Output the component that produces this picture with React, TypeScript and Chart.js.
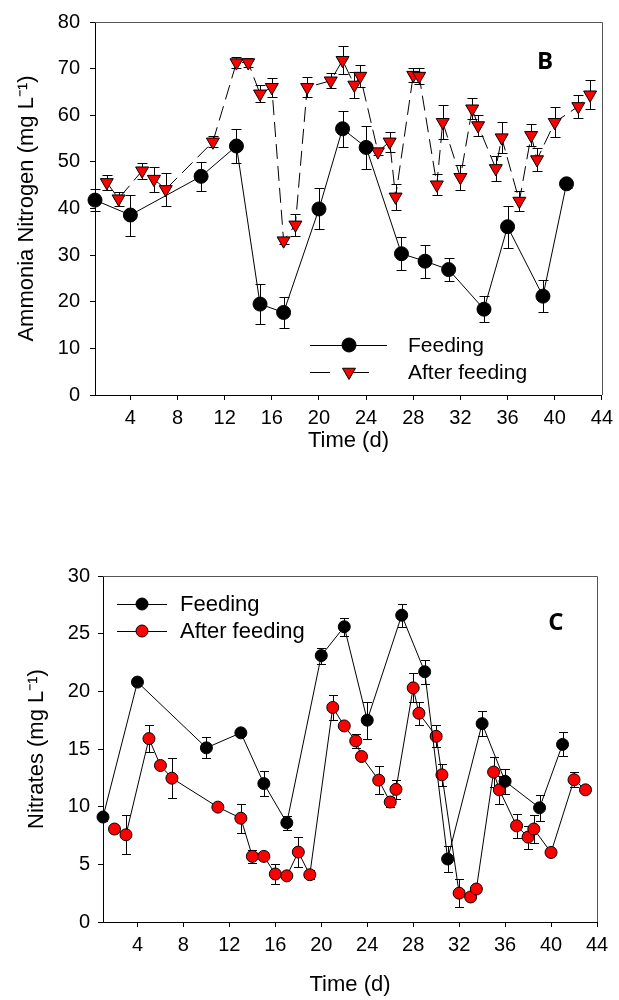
import React, { useEffect, useRef } from "react";
import { Chart, registerables } from "chart.js";

Chart.register(...registerables);

// ---------- data ----------
const feedDays = [1, 4, 10, 13, 15, 17, 20, 22, 24, 27, 29, 31, 34, 36, 39, 41];
const afterDays = [2, 3, 5, 6, 7, 11, 13, 14, 15, 16, 17, 18, 19, 21, 22, 23, 23.5, 25, 26, 26.5, 28, 28.5, 30, 30.5, 32, 33, 33.5, 35, 35.5, 37, 38, 38.5, 40, 42, 43];

const ammoniaFeeding = [41.8, 38.6, 46.9, 53.4, 19.5, 17.7, 39.9, 57.1, 53.1, 30.3, 28.7, 26.9, 18.4, 36.1, 21.2, 45.3];
const ammoniaFeedingErr = [2.3, 4.4, 3.1, 3.7, 4.2, 3.3, 4.4, 3.9, 4.6, 3.5, 3.5, 2.4, 2.8, 4.5, 3.5, 0.8];
const ammoniaAfter = [45.6, 42.1, 48.1, 46.3, 44.1, 54.3, 71.3, 71.3, 64.6, 66.0, 33.1, 36.5, 66.0, 67.4, 71.8, 66.5, 68.4, 52.2, 54.3, 42.5, 68.6, 68.4, 45.1, 58.5, 46.7, 61.4, 57.8, 48.6, 55.2, 41.6, 55.7, 50.5, 58.5, 61.9, 64.4];
const ammoniaAfterErr = [1.6, 1.5, 1.7, 2.7, 3.5, 1.2, 1.2, 1.0, 1.8, 2.0, 0.8, 2.4, 2.1, 1.6, 3.0, 2.7, 2.3, 0.8, 2.2, 2.8, 1.5, 1.7, 2.3, 3.6, 2.65, 2.2, 2.3, 2.65, 3.4, 2.1, 2.4, 2.4, 3.2, 2.4, 3.1];

const nitrateFeeding = [9.1, 20.8, 15.1, 16.4, 12.0, 8.6, 23.1, 25.6, 17.5, 26.6, 21.7, 5.46, 17.2, 12.2, 9.9, 15.4];
const nitrateFeedingErr = [0.3, 0.2, 0.9, 0.2, 1.08, 0.58, 0.7, 0.8, 1.6, 1.0, 1.04, 1.1, 1.08, 1.08, 1.1, 1.04];
const nitrateAfter = [8.06, 7.56, 15.9, 13.57, 12.47, 9.96, 9.0, 5.69, 5.69, 4.16, 4.0, 6.06, 4.1, 18.6, 17.0, 15.7, 14.35, 12.3, 10.4, 11.5, 20.3, 18.1, 16.1, 12.76, 2.5, 2.17, 2.86, 13.0, 11.46, 8.34, 7.36, 8.06, 6.03, 12.33, 11.46];
const nitrateAfterErr = [0.2, 1.7, 1.15, 0.2, 1.75, 0.2, 1.25, 0.58, 0.2, 0.9, 0.2, 1.28, 0.4, 1.12, 0.2, 0.6, 0.3, 1.2, 0.4, 0.8, 1.25, 1.0, 0.94, 0.94, 1.22, 0.2, 0.2, 1.27, 1.2, 1.05, 1.0, 1.2, 0.2, 0.66, 0.2];

const xTicks = [4, 8, 12, 16, 20, 24, 28, 32, 36, 40, 44];
const ammoniaYTicks = [0, 10, 20, 30, 40, 50, 60, 70, 80];
const nitrateYTicks = [0, 5, 10, 15, 20, 25, 30];

const seriesLabels = ["Feeding", "After feeding"];

// ---------- styling ----------
const FONT = "'Liberation Sans', Arial, Helvetica, sans-serif";
const LABEL_FONT = "'Open Sans', 'Liberation Sans', sans-serif";

const toPoints = (xs: number[], ys: number[]) => xs.map((x, i) => ({ x, y: ys[i] }));

// ---------- plugins ----------
const errorBarPlugin = {
  id: "errorBars",
  beforeDatasetsDraw(chart: any, _args: any, opts: any) {
    const ctx = chart.ctx;
    const yScale = chart.scales.y;
    const cap = opts?.cap ?? 5;
    chart.data.datasets.forEach((ds: any, i: number) => {
      const errs: number[] | undefined = ds.errors;
      if (!errs) return;
      const meta = chart.getDatasetMeta(i);
      ctx.save();
      ctx.strokeStyle = "#000";
      ctx.lineWidth = 1;
      ctx.setLineDash([]);
      meta.data.forEach((pt: any, j: number) => {
        const v = ds.data[j].y;
        const e = errs[j];
        const x = Math.round(pt.x) + 0.5;
        const yt = Math.round(yScale.getPixelForValue(v + e)) + 0.5;
        const yb = Math.round(yScale.getPixelForValue(v - e)) + 0.5;
        ctx.beginPath();
        ctx.moveTo(x, yt);
        ctx.lineTo(x, yb);
        ctx.moveTo(x - cap, yt);
        ctx.lineTo(x + cap, yt);
        ctx.moveTo(x - cap, yb);
        ctx.lineTo(x + cap, yb);
        ctx.stroke();
      });
      ctx.restore();
    });
  },
};

const framePlugin = {
  id: "frame",
  afterDraw(chart: any) {
    const { ctx, chartArea } = chart;
    const { left, right, top, bottom } = chartArea;
    ctx.save();
    ctx.strokeStyle = "#555";
    ctx.lineWidth = 1;
    ctx.beginPath();
    ctx.moveTo(Math.round(left), Math.round(top) + 0.5);
    ctx.lineTo(Math.round(right) + 0.5, Math.round(top) + 0.5);
    ctx.lineTo(Math.round(right) + 0.5, Math.round(bottom));
    ctx.stroke();
    ctx.restore();
  },
};

function drawMarker(ctx: CanvasRenderingContext2D, style: string, x: number, y: number, r: number, fill: string) {
  ctx.save();
  ctx.fillStyle = fill;
  ctx.strokeStyle = "#000";
  ctx.lineWidth = 1;
  ctx.setLineDash([]);
  ctx.beginPath();
  if (style === "triangleDown") {
    const h = Math.sqrt(3) / 2 * r;
    ctx.moveTo(x - h, y - r / 2);
    ctx.lineTo(x + h, y - r / 2);
    ctx.lineTo(x, y + r);
    ctx.closePath();
  } else {
    ctx.arc(x, y, r, 0, Math.PI * 2);
  }
  ctx.fill();
  ctx.stroke();
  ctx.restore();
}

const legendPlugin = {
  id: "sketchLegend",
  afterDraw(chart: any, _args: any, opts: any) {
    if (!opts || !opts.items) return;
    const ctx = chart.ctx;
    opts.items.forEach((it: any) => {
      ctx.save();
      ctx.strokeStyle = "#000";
      ctx.lineWidth = 1;
      ctx.setLineDash(it.dash || []);
      ctx.beginPath();
      ctx.moveTo(opts.x1, it.y + 0.5);
      ctx.lineTo(opts.x2, it.y + 0.5);
      ctx.stroke();
      ctx.restore();
      drawMarker(ctx, it.marker, opts.mx, it.y, it.r, it.fill);
      ctx.save();
      ctx.fillStyle = "#000";
      ctx.font = `${opts.size}px ${FONT}`;
      ctx.textAlign = "left";
      ctx.textBaseline = "middle";
      ctx.fillText(it.label, opts.tx, it.y + 1);
      ctx.restore();
    });
  },
};

const panelLabelPlugin = {
  id: "panelLabel",
  afterDraw(chart: any, _args: any, opts: any) {
    if (!opts || !opts.text) return;
    const ctx = chart.ctx;
    ctx.save();
    ctx.fillStyle = "#000";
    ctx.font = `bold ${opts.size}px ${LABEL_FONT}`;
    ctx.textAlign = "center";
    ctx.textBaseline = "middle";
    ctx.fillText(opts.text, opts.x, opts.y);
    ctx.restore();
  },
};

// ---------- config builders ----------
function buildScales(p: {
  yMax: number; yTicks: number[]; yTitle: string; yWidth: number; yTitlePad: number; yTickPad: number;
  xHeight: number; xTitlePadBottom: number;
}) {
  const tickFont = { family: FONT, size: 20 };
  const titleFont = { family: FONT, size: 22 };
  return {
    x: {
      type: "linear",
      min: 1,
      max: 44,
      afterBuildTicks: (s: any) => { s.ticks = xTicks.map((v) => ({ value: v })); },
      afterFit: (s: any) => { s.height = p.xHeight; },
      grid: { display: true, drawOnChartArea: false, drawTicks: true, tickLength: 5, color: "#000", lineWidth: 1 },
      border: { display: true, color: "#000", width: 1 },
      ticks: { font: tickFont, color: "#000", padding: 6, maxRotation: 0, autoSkip: false, callback: (v: any) => String(v) },
      title: { display: true, text: "Time (d)", font: titleFont, color: "#000", padding: { top: 0, bottom: p.xTitlePadBottom } },
    },
    y: {
      type: "linear",
      min: 0,
      max: p.yMax,
      afterBuildTicks: (s: any) => { s.ticks = p.yTicks.map((v) => ({ value: v })); },
      afterFit: (s: any) => { s.width = p.yWidth; },
      grid: { display: true, drawOnChartArea: false, drawTicks: true, tickLength: 5, color: "#000", lineWidth: 1 },
      border: { display: true, color: "#000", width: 1 },
      ticks: { font: tickFont, color: "#000", padding: p.yTickPad, autoSkip: false, callback: (v: any) => String(v) },
      title: { display: true, text: p.yTitle, font: titleFont, color: "#000", padding: { top: p.yTitlePad, bottom: 0 } },
    },
  };
}

function ammoniaConfig(): any {
  return {
    type: "line",
    data: {
      datasets: [
        {
          label: seriesLabels[0],
          data: toPoints(feedDays, ammoniaFeeding),
          errors: ammoniaFeedingErr,
          borderColor: "#000",
          borderWidth: 1,
          pointStyle: "circle",
          pointRadius: 7,
          pointBackgroundColor: "#000",
          pointBorderColor: "#000",
          pointBorderWidth: 1,
          tension: 0,
          clip: false,
        },
        {
          label: seriesLabels[1],
          data: toPoints(afterDays, ammoniaAfter),
          errors: ammoniaAfterErr,
          borderColor: "#000",
          borderWidth: 1,
          borderDash: [15, 7],
          pointStyle: "triangle",
          rotation: 180,
          pointRadius: 7.5,
          pointBackgroundColor: "#ff0000",
          pointBorderColor: "#000",
          pointBorderWidth: 1,
          tension: 0,
          clip: false,
        },
      ],
    },
    options: {
      responsive: false,
      animation: false,
      events: [],
      layout: { padding: { left: 0, right: 13, top: 18, bottom: 0 } },
      scales: buildScales({
        yMax: 80, yTicks: ammoniaYTicks, yTitle: "Ammonia Nitrogen (mg L\u207B\u00B9)", yWidth: 95, yTitlePad: 14, yTickPad: 10,
        xHeight: 105, xTitlePadBottom: 46,
      }),
      plugins: {
        legend: { display: false },
        tooltip: { enabled: false },
        errorBars: { cap: 5 },
        sketchLegend: {
          x1: 310, x2: 387, mx: 349, tx: 408, size: 21,
          items: [
            { label: seriesLabels[0], y: 345, marker: "circle", r: 7, fill: "#000", dash: [] },
            { label: seriesLabels[1], y: 372, marker: "triangleDown", r: 7.5, fill: "#ff0000", dash: [20, 19] },
          ],
        },
        panelLabel: { text: "B", x: 545, y: 62, size: 24 },
      },
    },
    plugins: [errorBarPlugin, framePlugin, legendPlugin, panelLabelPlugin],
  };
}

function nitrateConfig(): any {
  return {
    type: "line",
    data: {
      datasets: [
        {
          label: seriesLabels[0],
          data: toPoints(feedDays, nitrateFeeding),
          errors: nitrateFeedingErr,
          borderColor: "#000",
          borderWidth: 1,
          pointStyle: "circle",
          pointRadius: 6,
          pointBackgroundColor: "#000",
          pointBorderColor: "#000",
          pointBorderWidth: 1,
          tension: 0,
          clip: false,
        },
        {
          label: seriesLabels[1],
          data: toPoints(afterDays, nitrateAfter),
          errors: nitrateAfterErr,
          borderColor: "#000",
          borderWidth: 1,
          pointStyle: "circle",
          pointRadius: 6,
          pointBackgroundColor: "#ff0000",
          pointBorderColor: "#000",
          pointBorderWidth: 1,
          tension: 0,
          clip: false,
        },
      ],
    },
    options: {
      responsive: false,
      animation: false,
      events: [],
      layout: { padding: { left: 0, right: 22, top: 76, bottom: 0 } },
      scales: buildScales({
        yMax: 30, yTicks: nitrateYTicks, yTitle: "Nitrates (mg L\u207B\u00B9)", yWidth: 103, yTitlePad: 24, yTickPad: 8,
        xHeight: 78, xTitlePadBottom: 2,
      }),
      plugins: {
        legend: { display: false },
        tooltip: { enabled: false },
        errorBars: { cap: 4.5 },
        sketchLegend: {
          x1: 117, x2: 167, mx: 142, tx: 180, size: 22,
          items: [
            { label: seriesLabels[0], y: 104, marker: "circle", r: 6, fill: "#000", dash: [] },
            { label: seriesLabels[1], y: 131, marker: "circle", r: 6, fill: "#ff0000", dash: [] },
          ],
        },
        panelLabel: { text: "C", x: 556, y: 123, size: 24 },
      },
    },
    plugins: [errorBarPlugin, framePlugin, legendPlugin, panelLabelPlugin],
  };
}

function ChartCanvas({ build, top }: { build: () => any; top: number }) {
  const ref = useRef<HTMLCanvasElement | null>(null);
  useEffect(() => {
    if (!ref.current) return;
    const chart = new Chart(ref.current, build());
    return () => chart.destroy();
  }, [build]);
  return (
    <canvas
      ref={ref}
      width={619}
      height={500}
      style={{ position: "absolute", left: 0, top, width: 619, height: 500, display: "block" }}
    />
  );
}

export default function App() {
  return (
    <div style={{ position: "fixed", left: 0, top: 0, width: 619, height: 1000, background: "#fff" }}>
      <ChartCanvas build={ammoniaConfig} top={0} />
      <ChartCanvas build={nitrateConfig} top={500} />
    </div>
  );
}
